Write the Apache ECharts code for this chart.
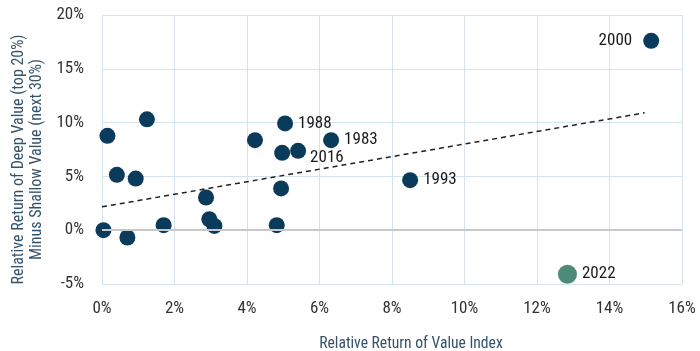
<!DOCTYPE html>
<html>
<head>
<meta charset="utf-8">
<script src="https://cdn.jsdelivr.net/npm/echarts@6/dist/echarts.min.js"></script>
<style>html,body{margin:0;padding:0;background:#fff}#c{width:700px;height:351px}</style>
</head>
<body>
<div id="c"></div>
<script>
// Data (percent)
var xValues = [0.04, 0.15, 0.41, 0.93, 1.24, 0.70, 1.70, 2.87, 2.96, 3.10, 4.82, 4.94, 4.22, 5.05, 4.97, 5.41, 6.32, 8.50, 15.15];
var yValues = [0.0, 8.77, 5.15, 4.8, 10.3, -0.68, 0.47, 3.04, 1.02, 0.4, 0.47, 3.88, 8.37, 9.92, 7.19, 7.38, 8.37, 4.65, 17.6];
var yearLabels = ['', '', '', '', '', '', '', '', '', '', '', '', '', '1988', '', '2016', '1983', '1993', '2000'];
var highlightX = [12.84];
var highlightY = [-4.09];
var highlightLabels = ['2022'];
var trendX = [0, 14.97];
var trendY = [2.17, 10.91];
var xTicks = [0, 2, 4, 6, 8, 10, 12, 14, 16];
var yTicks = [-5, 0, 5, 10, 15, 20];

var FONT = "'Roboto Condensed', 'Roboto', sans-serif";
var navy = '#0b3b5b';
var green = '#4b8b78';

var labelPos = {'1988': 'right', '2016': 'bottomRight', '1983': 'right', '1993': 'right', '2000': 'left'};

var mainData = xValues.map(function (x, i) {
  var lab = yearLabels[i];
  var item = { value: [x, yValues[i]] };
  if (lab) {
    var pos = labelPos[lab];
    var lbl = { show: true, formatter: lab, position: pos === 'bottomRight' ? 'right' : pos, distance: 5 };
    if (pos === 'bottomRight') { lbl.position = 'right'; lbl.offset = [-1, 7]; }
    if (pos === 'left') { lbl.distance = 11; }
    item.label = lbl;
  }
  return item;
});
var hiData = highlightX.map(function (x, i) {
  return { value: [x, highlightY[i]], label: { show: true, formatter: highlightLabels[i], position: 'right', distance: 5 } };
});
var trendData = trendX.map(function (x, i) { return [x, trendY[i]]; });

var chart = echarts.init(document.getElementById('c'), null, { renderer: 'canvas' });
chart.setOption({
  animation: false,
  textStyle: { fontFamily: FONT },
  grid: { left: 102, right: 18, top: 15, bottom: 67, outerBoundsMode: 'none', containLabel: false },
  xAxis: {
    type: 'value', min: 0, max: 16, interval: 2,
    name: 'Relative Return of Value Index', nameLocation: 'middle', nameGap: 52,
    nameTextStyle: { color: '#34536b', fontSize: 15.6, fontFamily: FONT, padding: [0, 0, 0, 38] },
    axisLine: { show: false }, axisTick: { show: false },
    axisLabel: { color: '#333', fontSize: 17, margin: 16, fontFamily: FONT,
      formatter: function (v) { return xTicks.indexOf(v) >= 0 ? v + '%' : ''; } },
    splitLine: { show: true, lineStyle: { color: '#d5e3ed', width: 1 } }
  },
  yAxis: {
    type: 'value', min: -5, max: 20, interval: 5,
    name: 'Relative Return of Deep Value (top 20%)\nMinus Shallow Value (next 30%)',
    nameLocation: 'middle', nameGap: 51,
    nameTextStyle: { color: '#34536b', fontSize: 16, lineHeight: 18, fontFamily: FONT, padding: [0, 20, 0, 0] },
    axisLine: { show: false }, axisTick: { show: false },
    axisLabel: { color: '#333', fontSize: 17, margin: 18, fontFamily: FONT,
      formatter: function (v) { return yTicks.indexOf(v) >= 0 ? v + '%' : ''; } },
    splitLine: { show: true, lineStyle: { color: '#d5e3ed', width: 1 } }
  },
  series: [
    {
      type: 'line', data: trendData, symbol: 'none', silent: true,
      lineStyle: { color: '#222', width: 1.5, type: [5, 4] }, z: 1,
      markLine: {
        silent: true, symbol: 'none', label: { show: false },
        lineStyle: { color: '#c8c8c8', width: 2, type: 'solid' },
        data: [{ yAxis: 0 }]
      }
    },
    {
      type: 'scatter', data: mainData, symbolSize: 16,
      itemStyle: { color: navy, opacity: 1 },
      label: { color: '#1a1a1a', fontSize: 17, fontFamily: FONT },
      z: 3
    },
    {
      type: 'scatter', data: hiData, symbolSize: 19,
      itemStyle: { color: green, opacity: 1 },
      label: { color: '#1a1a1a', fontSize: 17, fontFamily: FONT },
      z: 3
    }
  ]
});
</script>
</body>
</html>
